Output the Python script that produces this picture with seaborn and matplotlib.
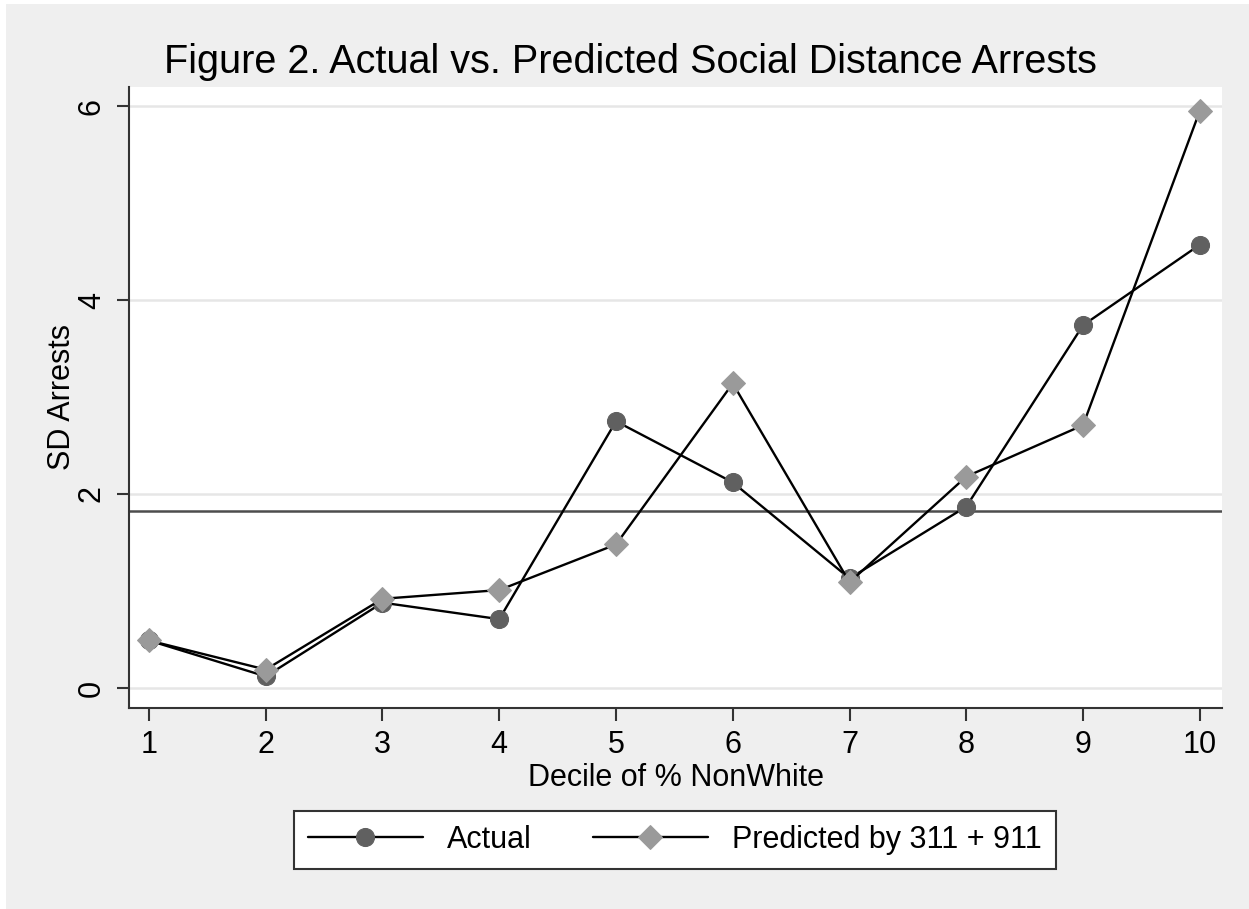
import matplotlib
matplotlib.use("Agg")
import matplotlib.pyplot as plt
import seaborn as sns
import pandas as pd
from matplotlib.patches import Rectangle

# 数据
deciles = [1, 2, 3, 4, 5, 6, 7, 8, 9, 10]
actual = [0.49, 0.12, 0.88, 0.71, 2.75, 2.12, 1.13, 1.87, 3.74, 4.57]
predicted = [0.49, 0.19, 0.92, 1.01, 1.48, 3.14, 1.09, 2.18, 2.71, 5.95]
mean_line = 1.83

df = pd.DataFrame({"decile": deciles, "Actual": actual, "Predicted by 311 + 911": predicted})

sns.set_style("white")
plt.rcParams["font.family"] = ["Liberation Sans", "DejaVu Sans"]
plt.rcParams.update({"text.color": "black", "axes.labelcolor": "black",
                     "xtick.color": "black", "ytick.color": "black"})

fig = plt.figure(figsize=(12.49, 9.09), dpi=100, facecolor="white")
fig.add_artist(Rectangle((6 / 1249, 0), 1, 1 - 4 / 909, transform=fig.transFigure,
                         facecolor="#efefef", edgecolor="none", zorder=-10))
ax = fig.add_axes([129 / 1249, 1 - 708 / 909, (1222 - 129) / 1249, (708 - 87) / 909])
ax.set_facecolor("white")

# 参考线和网格
for yv in [0, 2, 4, 6]:
    ax.axhline(yv, color="#e6e6e6", lw=1.8, zorder=0)
ax.axhline(mean_line, color="#4d4d4d", lw=1.8, zorder=1)

sns.lineplot(data=df, x="decile", y="Actual", ax=ax, color="black", lw=1.7,
             marker="o", markersize=13, markerfacecolor="#606060",
             markeredgecolor="#606060", label="Actual", zorder=3)
sns.lineplot(data=df, x="decile", y="Predicted by 311 + 911", ax=ax, color="black", lw=1.7,
             marker="D", markersize=12, markerfacecolor="#9a9a9a",
             markeredgecolor="#9a9a9a", label="Predicted by 311 + 911", zorder=4)

ax.set_xlim(0.829, 10.19)
ax.set_ylim(-0.206, 6.196)
ax.set_xticks(deciles)
ax.set_yticks([0, 2, 4, 6])
ax.tick_params(axis="both", direction="out", length=9, width=1.5, color="#333333",
               labelsize=22, pad=7, left=True, bottom=True)
plt.setp(ax.get_yticklabels(), rotation=90, va="center")
for s in ["top", "right"]:
    ax.spines[s].set_visible(False)
for s in ["left", "bottom"]:
    ax.spines[s].set_color("#333333")
    ax.spines[s].set_linewidth(1.5)

ax.set_xlabel("Decile of % NonWhite", fontsize=22, labelpad=2)
ax.set_ylabel("SD Arrests", fontsize=22, labelpad=0)
fig.text(630 / 1249, 1 - 62 / 909, "Figure 2. Actual vs. Predicted Social Distance Arrests",
         ha="center", va="center", fontsize=28.5)

leg = ax.legend(loc="center", bbox_to_anchor=(675 / 1249, 1 - 840 / 909),
                bbox_transform=fig.transFigure, ncol=2, fontsize=22, frameon=True,
                fancybox=False, edgecolor="#333333", handlelength=3.75,
                columnspacing=2.0, borderpad=0.45, handletextpad=0.8,
                borderaxespad=0, framealpha=1, facecolor="white")
leg.get_frame().set_linewidth(1.5)

fig.savefig("out.png", dpi=100, facecolor=fig.get_facecolor())
